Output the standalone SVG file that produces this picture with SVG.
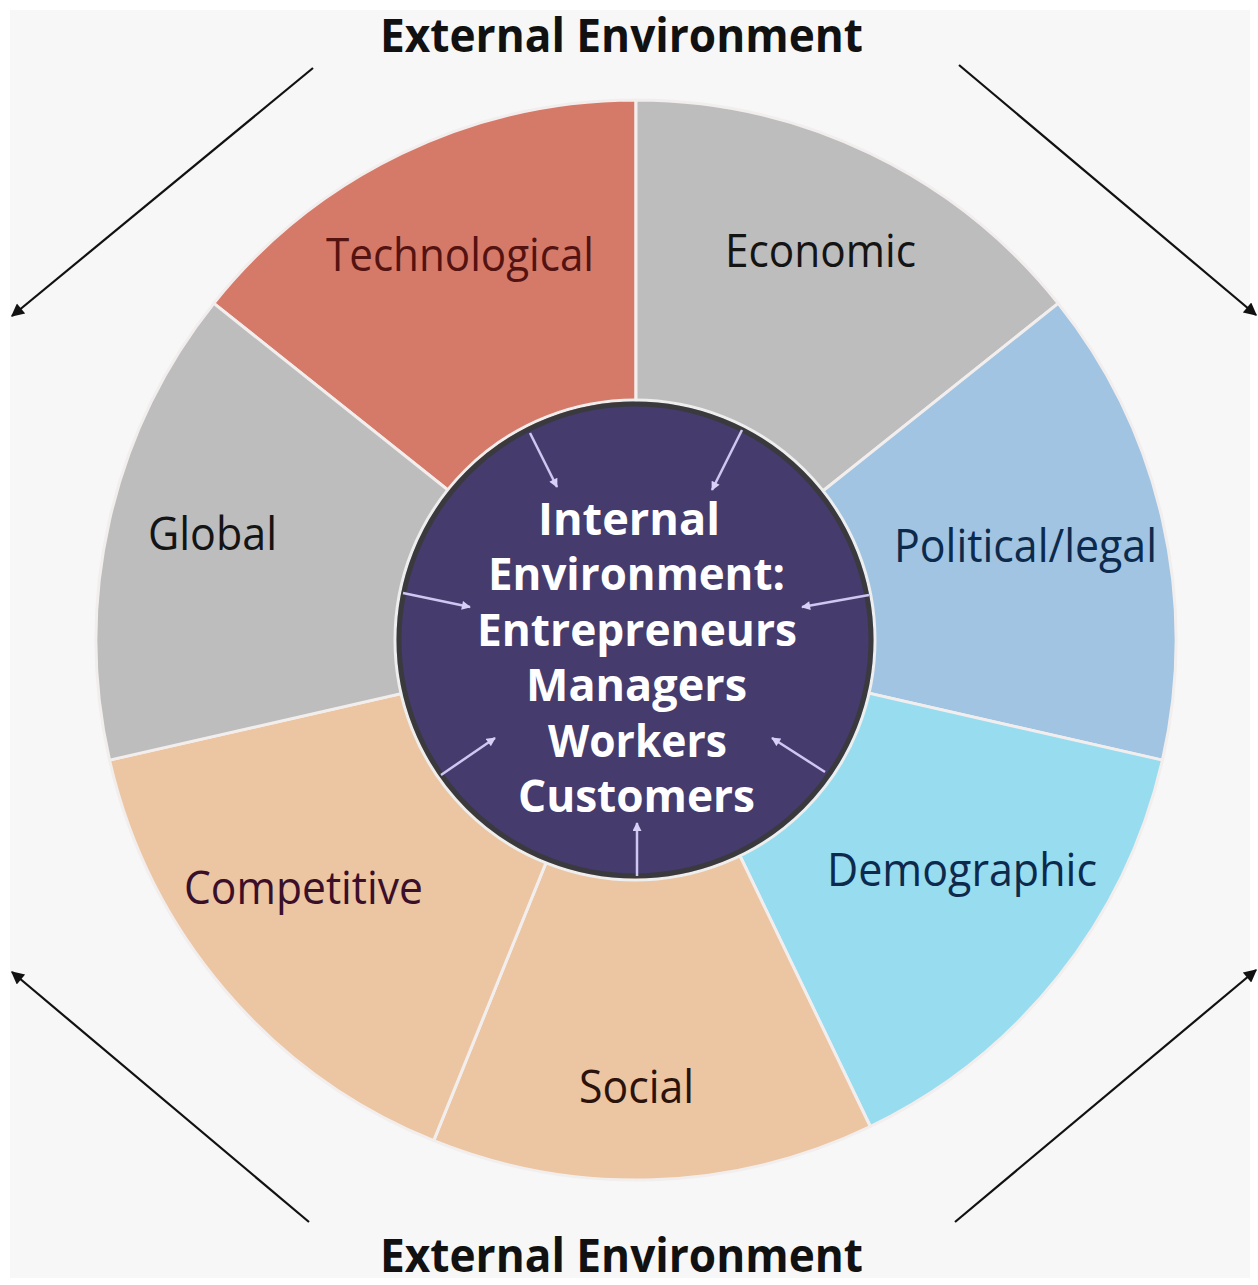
<svg xmlns="http://www.w3.org/2000/svg" width="1258" height="1285" viewBox="0 0 1258 1285">
<style>
.seg{stroke:#f3eeee;stroke-width:3;stroke-linejoin:round}
.lbl{font-family:"Open Sans","Noto Sans","Liberation Sans",sans-serif;font-size:46px}
.ext{font-family:"Open Sans","Noto Sans","Liberation Sans",sans-serif;font-size:47px;font-weight:bold;fill:#111}
.ctr{font-family:"Open Sans","Noto Sans","Liberation Sans",sans-serif;font-size:45px;font-weight:bold;fill:#ffffff}
.oarr{stroke:#111;stroke-width:2.2;fill:none}
.iarr{stroke:#cfc6f2;stroke-width:2.5;fill:none}
</style>
<defs>
<marker id="ahb" viewBox="0 0 10 10" refX="9" refY="5" markerWidth="18" markerHeight="13" markerUnits="userSpaceOnUse" orient="auto">
<path d="M0,0 L10,5 L0,10 z" fill="#111"/>
</marker>
<marker id="ahi" viewBox="0 0 10 10" refX="9" refY="5" markerWidth="10" markerHeight="9" markerUnits="userSpaceOnUse" orient="auto">
<path d="M0,0 L10,5 L0,10 z" fill="#d8d0f6"/>
</marker>
</defs>
<rect x="0" y="0" width="1258" height="1285" fill="#ffffff"/>
<rect x="10" y="10" width="1240" height="1268" fill="#f7f7f7"/>

<g id="technological">
<path class="seg" d="M636,640 L213.81,303.32 A540,540 0 0 1 636,100 Z" fill="#d57a69"/>
<text class="lbl" x="326" y="271" textLength="268" lengthAdjust="spacingAndGlyphs" fill="#541310">Technological</text>
</g>
<g id="economic">
<path class="seg" d="M636,640 L636,100 A540,540 0 0 1 1058.19,303.32 Z" fill="#bdbdbd"/>
<text class="lbl" x="725" y="267" textLength="191" lengthAdjust="spacingAndGlyphs" fill="#141414">Economic</text>
</g>
<g id="political">
<path class="seg" d="M636,640 L1058.19,303.32 A540,540 0 0 1 1162.46,760.16 Z" fill="#a0c4e1"/>
<text class="lbl" x="894" y="562" textLength="263" lengthAdjust="spacingAndGlyphs" fill="#0d2a4d">Political/legal</text>
</g>
<g id="demographic">
<path class="seg" d="M636,640 L1162.46,760.16 A540,540 0 0 1 870.30,1126.52 Z" fill="#98dcf0"/>
<text class="lbl" x="827" y="886" textLength="270" lengthAdjust="spacingAndGlyphs" fill="#0d2a4d">Demographic</text>
</g>
<g id="social">
<path class="seg" d="M636,640 L870.30,1126.52 A540,540 0 0 1 433.71,1140.68 Z" fill="#ecc5a2"/>
<text class="lbl" x="579" y="1103" textLength="115" lengthAdjust="spacingAndGlyphs" fill="#2b120a">Social</text>
</g>
<g id="competitive">
<path class="seg" d="M636,640 L433.71,1140.68 A540,540 0 0 1 109.54,760.16 Z" fill="#ecc5a2"/>
<text class="lbl" x="184" y="904" textLength="239" lengthAdjust="spacingAndGlyphs" fill="#3a0f2a">Competitive</text>
</g>
<g id="global">
<path class="seg" d="M636,640 L109.54,760.16 A540,540 0 0 1 213.81,303.32 Z" fill="#bdbdbd"/>
<text class="lbl" x="148" y="550" textLength="129" lengthAdjust="spacingAndGlyphs" fill="#141414">Global</text>
</g>

<g id="internal">
<circle cx="635" cy="640" r="240" fill="none" stroke="#eeeeee" stroke-width="3"/>
<circle cx="635" cy="640" r="236" fill="#453b6d" stroke="#3a3a3e" stroke-width="5"/>
<text class="ctr" x="538" y="535" textLength="182" lengthAdjust="spacingAndGlyphs">Internal</text>
<text class="ctr" x="488" y="590" textLength="297" lengthAdjust="spacingAndGlyphs">Environment:</text>
<text class="ctr" x="477" y="646" textLength="320" lengthAdjust="spacingAndGlyphs">Entrepreneurs</text>
<text class="ctr" x="526" y="701" textLength="221" lengthAdjust="spacingAndGlyphs">Managers</text>
<text class="ctr" x="548" y="757" textLength="179" lengthAdjust="spacingAndGlyphs">Workers</text>
<text class="ctr" x="518" y="812" textLength="237" lengthAdjust="spacingAndGlyphs">Customers</text>
</g>

<g id="ext-top">
<text class="ext" x="380" y="52" textLength="483" lengthAdjust="spacingAndGlyphs">External Environment</text>
</g>
<g id="ext-bottom">
<text class="ext" x="380" y="1272" textLength="483" lengthAdjust="spacingAndGlyphs">External Environment</text>
</g>

<g id="connectors">
<line class="oarr" x1="313" y1="68" x2="12" y2="316" marker-end="url(#ahb)"/>
<line class="oarr" x1="959" y1="65" x2="1256" y2="315" marker-end="url(#ahb)"/>
<line class="oarr" x1="309" y1="1222" x2="12" y2="972" marker-end="url(#ahb)"/>
<line class="oarr" x1="955" y1="1222" x2="1256" y2="970" marker-end="url(#ahb)"/>
<line class="iarr" x1="530" y1="433" x2="557" y2="487" marker-end="url(#ahi)"/>
<line class="iarr" x1="742" y1="430" x2="712" y2="490" marker-end="url(#ahi)"/>
<line class="iarr" x1="403" y1="593" x2="470" y2="607" marker-end="url(#ahi)"/>
<line class="iarr" x1="869" y1="595" x2="802" y2="607" marker-end="url(#ahi)"/>
<line class="iarr" x1="441" y1="775" x2="495" y2="738" marker-end="url(#ahi)"/>
<line class="iarr" x1="825" y1="772" x2="772" y2="738" marker-end="url(#ahi)"/>
<line class="iarr" x1="637" y1="876" x2="637" y2="823" marker-end="url(#ahi)"/>
</g>
</svg>
